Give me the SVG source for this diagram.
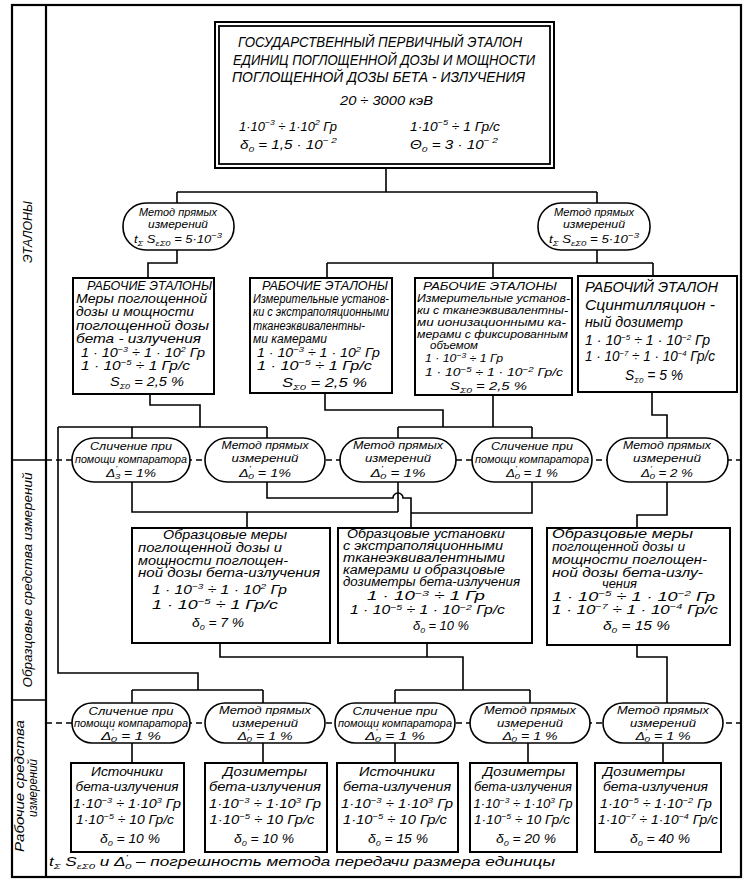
<svg xmlns="http://www.w3.org/2000/svg" width="750" height="889" viewBox="0 0 750 889">
<style>
.ln{fill:none;stroke:#000;stroke-width:1.6}
.fr{fill:none;stroke:#000;stroke-width:2.2}
.bx{fill:#fff;stroke:#000;stroke-width:2}
.ov{fill:#fff;stroke:#000;stroke-width:1.6}
.dash{fill:none;stroke:#000;stroke-width:1.5;stroke-dasharray:6 4}
text{font-family:"Liberation Sans","DejaVu Sans",sans-serif;font-style:italic;fill:#000;font-size:12px}
.h{font-size:15px}
.b1{font-size:13px}
.b3{font-size:11.5px}
.b4{font-size:14px}
.bb{font-size:12.5px}
.o{font-size:11px}
.s{font-size:8px}
.m{text-anchor:middle}
</style>
<rect x="0" y="0" width="750" height="889" fill="#fff"/>

<g id="frame">
<rect class="fr" x="12" y="5" width="729" height="872"/>
<line class="fr" x1="46" y1="5" x2="46" y2="877"/>
<line class="ln" x1="12" y1="460" x2="46" y2="460"/>
<line class="ln" x1="12" y1="700" x2="46" y2="700"/>
<text class="m" transform="translate(32,232) rotate(-90)" textLength="62" lengthAdjust="spacingAndGlyphs">ЭТАЛОНЫ</text>
<text class="m" transform="translate(32,580) rotate(-90)" textLength="215" lengthAdjust="spacingAndGlyphs">Образцовые средства измерений</text>
<text class="m" transform="translate(24,786) rotate(-90)" textLength="132" lengthAdjust="spacingAndGlyphs">Рабочие средства</text>
<text class="m" transform="translate(37,788) rotate(-90)" textLength="58" lengthAdjust="spacingAndGlyphs">измерений</text>
</g>

<g id="connectors">
<path class="ln" d="M386,168 V192 M177,192 H597 M177,192 V203 M597,192 V203"/>
<path class="ln" d="M177,250 V263 H148 V278"/>
<path class="ln" d="M597,250 V263 M327,263 H653 M327,263 V278 M493,263 V278 M653,263 V276"/>
<path class="ln" d="M150,394 V405 H200 V427 M58,427 H267 M132,427 V438 M267,427 V438 M58,427 V673 H198 V690"/>
<path class="ln" d="M325,393 V410 H443 V427 M398,427 H532 M398,427 V438 M532,427 V438 M493,395 V427"/>
<path class="ln" d="M652,392 V415 H667 V438"/>
<path class="dash" d="M46,460 H741"/>
<path class="ln" d="M132,482 V512 H398 M398,482 V512 M247,512 V528"/>
<path class="ln" d="M267,482 V498 H393 A5,5 0 0 1 403,498 H411 V528 M532,482 V513 H411"/>
<path class="ln" d="M667,482 V515 H637 V528"/>
<path class="ln" d="M220,643 V657 H463 V690 M427,643 V657 M395,690 H530 M395,690 V703 M530,690 V703"/>
<path class="ln" d="M132,690 H263 M132,690 V703 M263,690 V703"/>
<path class="ln" d="M637,645 V657 H667 V703"/>
<path class="dash" d="M46,723 H741"/>
<path class="ln" d="M132,743 V763 M263,743 V763 M395,743 V763 M528,743 V763 M663,743 V763"/>
</g>

<g id="primary">
<rect class="bx" x="215" y="22" width="339" height="146" stroke-width="2.2"/>
<rect x="219" y="26" width="331" height="138" fill="none" stroke="#000" stroke-width="1.8"/>
<text class="h" x="238" y="47" textLength="284" lengthAdjust="spacingAndGlyphs">ГОСУДАРСТВЕННЫЙ ПЕРВИЧНЫЙ ЭТАЛОН</text>
<text class="h" x="233" y="65" textLength="302" lengthAdjust="spacingAndGlyphs">ЕДИНИЦ ПОГЛОЩЕННОЙ ДОЗЫ И МОЩНОСТИ</text>
<text class="h" x="232" y="82" textLength="293" lengthAdjust="spacingAndGlyphs">ПОГЛОЩЕННОЙ ДОЗЫ БЕТА - ИЗЛУЧЕНИЯ</text>
<text x="340" y="105" font-size="13" textLength="93" lengthAdjust="spacingAndGlyphs">20 ÷ 3000 кэВ</text>
<text x="239" y="131" textLength="98" lengthAdjust="spacingAndGlyphs">1·10<tspan class="s" dy="-6">−3</tspan><tspan dy="6"> ÷ 1·10</tspan><tspan class="s" dy="-6">2</tspan><tspan dy="6"> Гр</tspan></text>
<text x="410" y="131" textLength="90" lengthAdjust="spacingAndGlyphs">1·10<tspan class="s" dy="-6">−5</tspan><tspan dy="6"> ÷ 1 Гр/с</tspan></text>
<text x="240" y="149" textLength="97" lengthAdjust="spacingAndGlyphs">δ<tspan class="s" dy="3">0</tspan><tspan dy="-3"> = 1,5 · 10</tspan><tspan class="s" dy="-6">− 2</tspan><tspan dy="6"/></text>
<text x="410" y="149" textLength="88" lengthAdjust="spacingAndGlyphs">Θ<tspan class="s" dy="3">0</tspan><tspan dy="-3"> = 3 · 10</tspan><tspan class="s" dy="-6">− 2</tspan><tspan dy="6"/></text>
</g>

<g id="method-left">
<rect class="ov" x="123" y="203" width="111" height="47" rx="23"/>
<text class="o m" x="178" y="216" textLength="78" lengthAdjust="spacingAndGlyphs">Метод прямых</text>
<text class="o m" x="178" y="228" textLength="60" lengthAdjust="spacingAndGlyphs">измерений</text>
<text class="o m" x="178" y="243" textLength="88" lengthAdjust="spacingAndGlyphs">t<tspan class="s" dy="3">Σ</tspan><tspan dy="-3"> S</tspan><tspan class="s" dy="3">εΣ0</tspan><tspan dy="-3"> = 5·10</tspan><tspan class="s" dy="-5">−3</tspan><tspan dy="5"/></text>
</g>

<g id="method-right">
<rect class="ov" x="538" y="203" width="112" height="47" rx="23"/>
<text class="o m" x="594" y="216" textLength="80" lengthAdjust="spacingAndGlyphs">Метод прямых</text>
<text class="o m" x="594" y="228" textLength="62" lengthAdjust="spacingAndGlyphs">измерений</text>
<text class="o m" x="594" y="243" textLength="90" lengthAdjust="spacingAndGlyphs">t<tspan class="s" dy="3">Σ</tspan><tspan dy="-3"> S</tspan><tspan class="s" dy="3">εΣ0</tspan><tspan dy="-3"> = 5·10</tspan><tspan class="s" dy="-5">−3</tspan><tspan dy="5"/></text>
</g>

<g id="work-std-1">
<rect class="bx" x="73" y="278" width="141" height="116"/>
<text class="b1" x="87" y="290" textLength="125" lengthAdjust="spacingAndGlyphs">РАБОЧИЕ ЭТАЛОНЫ</text>
<text class="b1" x="76" y="303" textLength="131" lengthAdjust="spacingAndGlyphs">Меры поглощенной</text>
<text class="b1" x="76" y="316" textLength="118" lengthAdjust="spacingAndGlyphs">дозы и мощности</text>
<text class="b1" x="76" y="330" textLength="133" lengthAdjust="spacingAndGlyphs">поглощенной дозы</text>
<text class="b1" x="76" y="343" textLength="125" lengthAdjust="spacingAndGlyphs">бета - излучения</text>
<text class="b1" x="81" y="357" textLength="124" lengthAdjust="spacingAndGlyphs">1 · 10<tspan class="s" dy="-5">−3</tspan><tspan dy="5"> ÷ 1 · 10</tspan><tspan class="s" dy="-5">2</tspan><tspan dy="5"> Гр</tspan></text>
<text class="b1" x="81" y="370" textLength="109" lengthAdjust="spacingAndGlyphs">1 · 10<tspan class="s" dy="-5">−5</tspan><tspan dy="5"> ÷  1 Гр/с</tspan></text>
<text class="b1" x="110" y="386" textLength="74" lengthAdjust="spacingAndGlyphs">S<tspan class="s" dy="3">Σ0</tspan><tspan dy="-3"> = 2,5 %</tspan></text>
</g>

<g id="work-std-2">
<rect class="bx" x="250" y="278" width="142" height="115"/>
<text x="262" y="290" textLength="126" lengthAdjust="spacingAndGlyphs">РАБОЧИЕ ЭТАЛОНЫ</text>
<text x="253" y="303" textLength="136" lengthAdjust="spacingAndGlyphs">Измерительные установ-</text>
<text x="253" y="316" textLength="136" lengthAdjust="spacingAndGlyphs">ки с экстраполяционными</text>
<text x="253" y="330" textLength="112" lengthAdjust="spacingAndGlyphs">тканеэквивалентны-</text>
<text x="253" y="343" textLength="74" lengthAdjust="spacingAndGlyphs">ми камерами</text>
<text x="257" y="357" textLength="123" lengthAdjust="spacingAndGlyphs">1 · 10<tspan class="s" dy="-5">−3</tspan><tspan dy="5"> ÷ 1 · 10</tspan><tspan class="s" dy="-5">2</tspan><tspan dy="5"> Гр</tspan></text>
<text x="257" y="370" textLength="115" lengthAdjust="spacingAndGlyphs">1 · 10<tspan class="s" dy="-5">−5</tspan><tspan dy="5"> ÷   1  Гр/с</tspan></text>
<text x="282" y="387" textLength="85" lengthAdjust="spacingAndGlyphs">S<tspan class="s" dy="3">Σ0</tspan><tspan dy="-3"> = 2,5 %</tspan></text>
</g>

<g id="work-std-3">
<rect class="bx" x="415" y="278" width="157" height="117"/>
<text class="b3" x="423" y="290" textLength="134" lengthAdjust="spacingAndGlyphs">РАБОЧИЕ ЭТАЛОНЫ</text>
<text class="b3" x="417" y="302" textLength="153" lengthAdjust="spacingAndGlyphs">Измерительные установ-</text>
<text class="b3" x="417" y="314" textLength="151" lengthAdjust="spacingAndGlyphs">ки с тканеэквивалентны-</text>
<text class="b3" x="417" y="326" textLength="149" lengthAdjust="spacingAndGlyphs">ми ионизационными ка-</text>
<text class="b3" x="417" y="338" textLength="151" lengthAdjust="spacingAndGlyphs">мерами с фиксированным</text>
<text class="b3" x="430" y="349" textLength="48" lengthAdjust="spacingAndGlyphs">объемом</text>
<text class="b3" x="425" y="362" textLength="78" lengthAdjust="spacingAndGlyphs">1 · 10<tspan class="s" dy="-4">−3</tspan><tspan dy="4"> ÷  1 Гр</tspan></text>
<text class="b3" x="425" y="376" textLength="138" lengthAdjust="spacingAndGlyphs">1 · 10<tspan class="s" dy="-4">−5</tspan><tspan dy="4"> ÷  1 · 10</tspan><tspan class="s" dy="-4">−2</tspan><tspan dy="4"> Гр/с</tspan></text>
<text class="b3" x="450" y="390" textLength="77" lengthAdjust="spacingAndGlyphs">S<tspan class="s" dy="3">Σ0</tspan><tspan dy="-3"> = 2,5 %</tspan></text>
</g>

<g id="work-std-4">
<rect class="bx" x="578" y="276" width="159" height="116"/>
<text class="b4" x="585" y="292" textLength="133" lengthAdjust="spacingAndGlyphs">РАБОЧИЙ ЭТАЛОН</text>
<text class="b4" x="585" y="310" textLength="130" lengthAdjust="spacingAndGlyphs">Сцинтилляцион -</text>
<text class="b4" x="585" y="327" textLength="98" lengthAdjust="spacingAndGlyphs">ный дозиметр</text>
<text class="b4" x="585" y="345" textLength="125" lengthAdjust="spacingAndGlyphs">1 · 10<tspan class="s" dy="-5">−5</tspan><tspan dy="5"> ÷ 1 · 10</tspan><tspan class="s" dy="-5">−2</tspan><tspan dy="5"> Гр</tspan></text>
<text class="b4" x="585" y="361" textLength="130" lengthAdjust="spacingAndGlyphs">1 · 10<tspan class="s" dy="-5">−7</tspan><tspan dy="5"> ÷ 1 · 10</tspan><tspan class="s" dy="-5">−4</tspan><tspan dy="5"> Гр/с</tspan></text>
<text class="b4" x="625" y="380" textLength="58" lengthAdjust="spacingAndGlyphs">S<tspan class="s" dy="3">Σ0</tspan><tspan dy="-3"> = 5 %</tspan></text>
</g>

<g id="cmp-1">
<rect class="ov" x="72" y="438" width="118" height="44" rx="22"/>
<text class="o m" x="131" y="450" textLength="82" lengthAdjust="spacingAndGlyphs">Сличение при</text>
<text class="o m" x="131" y="463" textLength="112" lengthAdjust="spacingAndGlyphs">помощи компаратора</text>
<text class="o m" x="131" y="477" textLength="50" lengthAdjust="spacingAndGlyphs">Δ<tspan class="s" dy="-6">'</tspan><tspan class="s" dx="-2" dy="8">3</tspan><tspan dy="-2"> = 1%</tspan></text>
</g>
<g id="cmp-2">
<rect class="ov" x="205" y="438" width="120" height="44" rx="22"/>
<text class="o m" x="265" y="449" textLength="87" lengthAdjust="spacingAndGlyphs">Метод прямых</text>
<text class="o m" x="265" y="462" textLength="67" lengthAdjust="spacingAndGlyphs">измерений</text>
<text class="o m" x="265" y="477" textLength="52" lengthAdjust="spacingAndGlyphs">Δ<tspan class="s" dy="-6">'</tspan><tspan class="s" dx="-2" dy="8">0</tspan><tspan dy="-2"> = 1%</tspan></text>
</g>
<g id="cmp-3">
<rect class="ov" x="340" y="438" width="116" height="44" rx="22"/>
<text class="o m" x="398" y="449" textLength="90" lengthAdjust="spacingAndGlyphs">Метод прямых</text>
<text class="o m" x="398" y="462" textLength="66" lengthAdjust="spacingAndGlyphs">измерений</text>
<text class="o m" x="398" y="477" textLength="55" lengthAdjust="spacingAndGlyphs">Δ<tspan class="s" dy="-6">'</tspan><tspan class="s" dx="-2" dy="8">0</tspan><tspan dy="-2"> = 1%</tspan></text>
</g>
<g id="cmp-4">
<rect class="ov" x="472" y="438" width="120" height="44" rx="22"/>
<text class="o m" x="532" y="450" textLength="82" lengthAdjust="spacingAndGlyphs">Сличение при</text>
<text class="o m" x="532" y="463" textLength="114" lengthAdjust="spacingAndGlyphs">помощи компаратора</text>
<text class="o m" x="532" y="477" textLength="52" lengthAdjust="spacingAndGlyphs">Δ<tspan class="s" dy="-6">'</tspan><tspan class="s" dx="-2" dy="8">0</tspan><tspan dy="-2"> = 1 %</tspan></text>
</g>
<g id="cmp-5">
<rect class="ov" x="607" y="438" width="121" height="44" rx="22"/>
<text class="o m" x="667" y="449" textLength="88" lengthAdjust="spacingAndGlyphs">Метод прямых</text>
<text class="o m" x="667" y="462" textLength="68" lengthAdjust="spacingAndGlyphs">измерений</text>
<text class="o m" x="667" y="477" textLength="52" lengthAdjust="spacingAndGlyphs">Δ<tspan class="s" dy="-6">'</tspan><tspan class="s" dx="-2" dy="8">0</tspan><tspan dy="-2"> = 2 %</tspan></text>
</g>

<g id="ref-1">
<rect class="bx" x="132" y="528" width="198" height="115"/>
<text class="bb" x="163" y="539" textLength="124" lengthAdjust="spacingAndGlyphs">Образцовые меры</text>
<text class="bb" x="138" y="552" textLength="144" lengthAdjust="spacingAndGlyphs">поглощенной дозы и</text>
<text class="bb" x="138" y="565" textLength="150" lengthAdjust="spacingAndGlyphs">мощности поглощен-</text>
<text class="bb" x="138" y="577" textLength="182" lengthAdjust="spacingAndGlyphs">ной дозы бета-излучения</text>
<text class="bb" x="152" y="594" textLength="135" lengthAdjust="spacingAndGlyphs">1 · 10<tspan class="s" dy="-5">−3</tspan><tspan dy="5">  ÷  1 · 10</tspan><tspan class="s" dy="-5">2</tspan><tspan dy="5"> Гр</tspan></text>
<text class="bb" x="152" y="609" textLength="126" lengthAdjust="spacingAndGlyphs">1 · 10<tspan class="s" dy="-5">−5</tspan><tspan dy="5">  ÷   1   Гр/с</tspan></text>
<text class="bb" x="192" y="627" textLength="52" lengthAdjust="spacingAndGlyphs">δ<tspan class="s" dy="3">0</tspan><tspan dy="-3"> = 7 %</tspan></text>
</g>

<g id="ref-2">
<rect class="bx" x="338" y="528" width="194" height="115"/>
<text x="347" y="538" textLength="158" lengthAdjust="spacingAndGlyphs">Образцовые установки</text>
<text x="343" y="550" textLength="160" lengthAdjust="spacingAndGlyphs">с экстраполяционными</text>
<text x="343" y="562" textLength="162" lengthAdjust="spacingAndGlyphs">тканеэквивалентными</text>
<text x="343" y="574" textLength="162" lengthAdjust="spacingAndGlyphs">камерами и образцовые</text>
<text x="343" y="586" textLength="177" lengthAdjust="spacingAndGlyphs">дозиметры бета-излучения</text>
<text x="367" y="600" textLength="118" lengthAdjust="spacingAndGlyphs">1 · 10<tspan class="s" dy="-4">−3</tspan><tspan dy="4"> ÷  1 Гр</tspan></text>
<text x="350" y="614" textLength="155" lengthAdjust="spacingAndGlyphs">1 · 10<tspan class="s" dy="-4">−5</tspan><tspan dy="4">    ÷ 1 · 10</tspan><tspan class="s" dy="-4">−2</tspan><tspan dy="4"> Гр/с</tspan></text>
<text x="413" y="630" textLength="56" lengthAdjust="spacingAndGlyphs">δ<tspan class="s" dy="3">0</tspan><tspan dy="-3"> = 10 %</tspan></text>
</g>

<g id="ref-3">
<rect class="bx" x="547" y="528" width="183" height="117"/>
<text class="bb" x="552" y="538" textLength="141" lengthAdjust="spacingAndGlyphs">Образцовые меры</text>
<text class="bb" x="552" y="551" textLength="133" lengthAdjust="spacingAndGlyphs">поглощенной дозы и</text>
<text class="bb" x="552" y="564" textLength="155" lengthAdjust="spacingAndGlyphs">мощности поглощен-</text>
<text class="bb" x="552" y="577" textLength="151" lengthAdjust="spacingAndGlyphs">ной дозы бета-излу-</text>
<text class="bb" x="602" y="588" textLength="35" lengthAdjust="spacingAndGlyphs">чения</text>
<text class="bb" x="552" y="601" textLength="163" lengthAdjust="spacingAndGlyphs">1 · 10<tspan class="s" dy="-5">−5</tspan><tspan dy="5">  ÷  1 · 10</tspan><tspan class="s" dy="-5">−2</tspan><tspan dy="5"> Гр</tspan></text>
<text class="bb" x="552" y="614" textLength="166" lengthAdjust="spacingAndGlyphs">1 · 10<tspan class="s" dy="-5">−7</tspan><tspan dy="5">  ÷  1 · 10</tspan><tspan class="s" dy="-5">−4</tspan><tspan dy="5"> Гр/с</tspan></text>
<text class="bb" x="603" y="630" textLength="67" lengthAdjust="spacingAndGlyphs">δ<tspan class="s" dy="3">0</tspan><tspan dy="-3"> = 15 %</tspan></text>
</g>

<g id="low-cmp-1">
<rect class="ov" x="72" y="703" width="118" height="40" rx="20"/>
<text class="o m" x="131" y="715" textLength="85" lengthAdjust="spacingAndGlyphs">Сличение при</text>
<text class="o m" x="131" y="727" textLength="114" lengthAdjust="spacingAndGlyphs">помощи компаратора</text>
<text class="o m" x="131" y="740" textLength="60" lengthAdjust="spacingAndGlyphs">Δ<tspan class="s" dy="-6">'</tspan><tspan class="s" dx="-2" dy="8">0</tspan><tspan dy="-2"> = 1 %</tspan></text>
</g>
<g id="low-cmp-2">
<rect class="ov" x="205" y="703" width="120" height="40" rx="20"/>
<text class="o m" x="265" y="714" textLength="92" lengthAdjust="spacingAndGlyphs">Метод прямых</text>
<text class="o m" x="265" y="727" textLength="66" lengthAdjust="spacingAndGlyphs">измерений</text>
<text class="o m" x="265" y="740" textLength="55" lengthAdjust="spacingAndGlyphs">Δ<tspan class="s" dy="-6">'</tspan><tspan class="s" dx="-2" dy="8">0</tspan><tspan dy="-2"> = 1 %</tspan></text>
</g>
<g id="low-cmp-3">
<rect class="ov" x="335" y="703" width="120" height="40" rx="20"/>
<text class="o m" x="395" y="715" textLength="85" lengthAdjust="spacingAndGlyphs">Сличение при</text>
<text class="o m" x="395" y="727" textLength="114" lengthAdjust="spacingAndGlyphs">помощи компаратора</text>
<text class="o m" x="395" y="740" textLength="60" lengthAdjust="spacingAndGlyphs">Δ<tspan class="s" dy="-6">'</tspan><tspan class="s" dx="-2" dy="8">0</tspan><tspan dy="-2"> = 1 %</tspan></text>
</g>
<g id="low-cmp-4">
<rect class="ov" x="470" y="703" width="120" height="40" rx="20"/>
<text class="o m" x="530" y="714" textLength="92" lengthAdjust="spacingAndGlyphs">Метод прямых</text>
<text class="o m" x="530" y="727" textLength="66" lengthAdjust="spacingAndGlyphs">измерений</text>
<text class="o m" x="530" y="740" textLength="55" lengthAdjust="spacingAndGlyphs">Δ<tspan class="s" dy="-6">'</tspan><tspan class="s" dx="-2" dy="8">0</tspan><tspan dy="-2"> = 1 %</tspan></text>
</g>
<g id="low-cmp-5">
<rect class="ov" x="603" y="703" width="120" height="40" rx="20"/>
<text class="o m" x="663" y="714" textLength="92" lengthAdjust="spacingAndGlyphs">Метод прямых</text>
<text class="o m" x="663" y="727" textLength="66" lengthAdjust="spacingAndGlyphs">измерений</text>
<text class="o m" x="663" y="740" textLength="55" lengthAdjust="spacingAndGlyphs">Δ<tspan class="s" dy="-6">'</tspan><tspan class="s" dx="-2" dy="8">0</tspan><tspan dy="-2"> = 1 %</tspan></text>
</g>

<g id="work-1">
<rect class="bx" x="71" y="763" width="113" height="89"/>
<text class="m" x="127" y="776" font-size="13.5" textLength="72" lengthAdjust="spacingAndGlyphs">Источники</text>
<text class="m bb" x="127" y="791" textLength="103" lengthAdjust="spacingAndGlyphs">бета-излучения</text>
<text class="m bb" x="127" y="808" textLength="108" lengthAdjust="spacingAndGlyphs">1·10<tspan class="s" dy="-5">−3</tspan><tspan dy="5"> ÷ 1·10</tspan><tspan class="s" dy="-5">3</tspan><tspan dy="5"> Гр</tspan></text>
<text class="m bb" x="125" y="824" textLength="98" lengthAdjust="spacingAndGlyphs">1·10<tspan class="s" dy="-5">−5</tspan><tspan dy="5"> ÷ 10 Гр/с</tspan></text>
<text class="m bb" x="130" y="843" textLength="60" lengthAdjust="spacingAndGlyphs">δ<tspan class="s" dy="3">0</tspan><tspan dy="-3"> = 10 %</tspan></text>
</g>
<g id="work-2">
<rect class="bx" x="205" y="763" width="122" height="89"/>
<text class="m" x="265" y="776" font-size="13.5" textLength="84" lengthAdjust="spacingAndGlyphs">Дозиметры</text>
<text class="m bb" x="265" y="791" textLength="112" lengthAdjust="spacingAndGlyphs">бета-излучения</text>
<text class="m bb" x="265" y="808" textLength="112" lengthAdjust="spacingAndGlyphs">1·10<tspan class="s" dy="-5">−3</tspan><tspan dy="5"> ÷ 1·10</tspan><tspan class="s" dy="-5">3</tspan><tspan dy="5"> Гр</tspan></text>
<text class="m bb" x="262" y="824" textLength="105" lengthAdjust="spacingAndGlyphs">1·10<tspan class="s" dy="-5">−5</tspan><tspan dy="5"> ÷ 10 Гр/с</tspan></text>
<text class="m bb" x="264" y="843" textLength="60" lengthAdjust="spacingAndGlyphs">δ<tspan class="s" dy="3">0</tspan><tspan dy="-3"> = 10 %</tspan></text>
</g>
<g id="work-3">
<rect class="bx" x="337" y="763" width="121" height="89"/>
<text class="m" x="397" y="776" font-size="13.5" textLength="76" lengthAdjust="spacingAndGlyphs">Источники</text>
<text class="m bb" x="397" y="791" textLength="108" lengthAdjust="spacingAndGlyphs">бета-излучения</text>
<text class="m bb" x="397" y="808" textLength="112" lengthAdjust="spacingAndGlyphs">1·10<tspan class="s" dy="-5">−3</tspan><tspan dy="5"> ÷ 1·10</tspan><tspan class="s" dy="-5">3</tspan><tspan dy="5"> Гр</tspan></text>
<text class="m bb" x="395" y="824" textLength="104" lengthAdjust="spacingAndGlyphs">1·10<tspan class="s" dy="-5">−5</tspan><tspan dy="5"> ÷ 10 Гр/с</tspan></text>
<text class="m bb" x="398" y="843" textLength="60" lengthAdjust="spacingAndGlyphs">δ<tspan class="s" dy="3">0</tspan><tspan dy="-3"> = 15 %</tspan></text>
</g>
<g id="work-4">
<rect class="bx" x="470" y="763" width="107" height="89"/>
<text class="m" x="524" y="776" font-size="13.5" textLength="82" lengthAdjust="spacingAndGlyphs">Дозиметры</text>
<text class="m bb" x="523" y="791" textLength="98" lengthAdjust="spacingAndGlyphs">бета-излучения</text>
<text class="m bb" x="523" y="808" textLength="99" lengthAdjust="spacingAndGlyphs">1·10<tspan class="s" dy="-5">−3</tspan><tspan dy="5"> ÷ 1·10</tspan><tspan class="s" dy="-5">3</tspan><tspan dy="5"> Гр</tspan></text>
<text class="m bb" x="522" y="824" textLength="96" lengthAdjust="spacingAndGlyphs">1·10<tspan class="s" dy="-5">−5</tspan><tspan dy="5"> ÷ 10 Гр/с</tspan></text>
<text class="m bb" x="526" y="843" textLength="60" lengthAdjust="spacingAndGlyphs">δ<tspan class="s" dy="3">0</tspan><tspan dy="-3"> = 20 %</tspan></text>
</g>
<g id="work-5">
<rect class="bx" x="595" y="763" width="126" height="89"/>
<text x="603" y="776" font-size="13.5" textLength="82" lengthAdjust="spacingAndGlyphs">Дозиметры</text>
<text class="bb" x="603" y="791" textLength="105" lengthAdjust="spacingAndGlyphs">бета-излучения</text>
<text class="bb" x="600" y="808" textLength="112" lengthAdjust="spacingAndGlyphs">1·10<tspan class="s" dy="-5">−5</tspan><tspan dy="5"> ÷ 1·10</tspan><tspan class="s" dy="-5">−2</tspan><tspan dy="5"> Гр</tspan></text>
<text class="bb" x="598" y="824" textLength="120" lengthAdjust="spacingAndGlyphs">1·10<tspan class="s" dy="-5">−7</tspan><tspan dy="5"> ÷ 1·10</tspan><tspan class="s" dy="-5">−4</tspan><tspan dy="5"> Гр/с</tspan></text>
<text class="bb" x="630" y="843" textLength="60" lengthAdjust="spacingAndGlyphs">δ<tspan class="s" dy="3">0</tspan><tspan dy="-3"> = 40 %</tspan></text>
</g>

<g id="footer">
<text x="49" y="866" font-size="13" textLength="506" lengthAdjust="spacingAndGlyphs">t<tspan class="s" dy="3">Σ</tspan><tspan dy="-3"> S</tspan><tspan class="s" dy="3">εΣ0</tspan><tspan dy="-3">  и  Δ</tspan><tspan class="s" dy="-6">'</tspan><tspan class="s" dx="-2" dy="9">0</tspan><tspan dy="-3"> – погрешность метода передачи размера единицы</tspan></text>
</g>
</svg>
